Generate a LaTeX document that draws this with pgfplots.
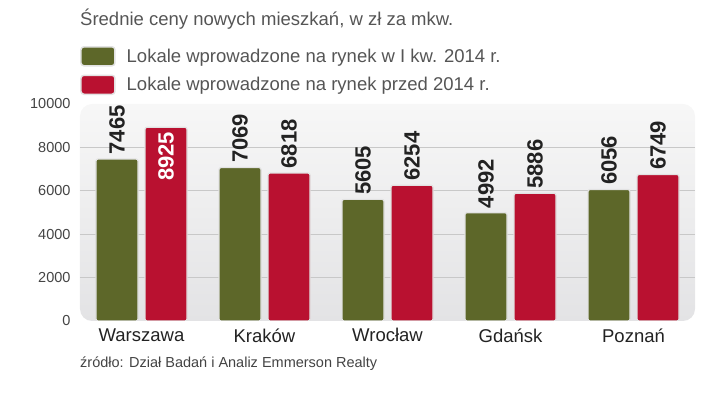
\documentclass[border=0pt]{standalone}
\usepackage{pgfplots}
\pgfplotsset{compat=1.18}
\usepackage{pgfplotstable}
\usepackage{fontspec}
\setmainfont{Liberation Sans}
\pgfkeys{/pgf/number format/.cd, 1000 sep={}, assume math mode=true}
\definecolor{olivebar}{HTML}{5D6729}
\definecolor{redbar}{HTML}{B91130}
\definecolor{lab}{HTML}{222222}
\definecolor{graytxt}{HTML}{555555}
\definecolor{ticktxt}{HTML}{444444}
\definecolor{barborder}{HTML}{E2E2E2}
\definecolor{panelTop}{HTML}{F7F7F7}
\definecolor{panelBot}{HTML}{E3E3E5}
\definecolor{gridc}{HTML}{C8C8C8}

\pgfplotstableread{
x y
0 7465
1 7069
2 5605
3 4992
4 6056
}\greendata
\pgfplotstableread{
x y inside
0 8925 1
1 6818 0
2 6254 0
3 5886 0
4 6749 0
}\reddata

\begin{document}
\begin{tikzpicture}
\useasboundingbox (0,0) rectangle (720pt,398pt);
\begin{axis}[
  at={(80pt,77pt)}, anchor=south west,
  scale only axis, width=615pt, height=217pt,
  xmin=-0.5, xmax=4.5, ymin=0, ymax=10000,
  ybar=7pt, bar width=42pt,
  xtick={0,1,2,3,4},
  xticklabels={Warszawa,Kraków,Wrocław,Gdańsk,Poznań},
  ytick={0,2000,4000,6000,8000,10000},
  extra y ticks={2000,4000,6000,8000},
  extra y tick labels={},
  extra y tick style={ymajorgrids=true, major grid style={gridc, line width=0.8pt}},
  axis line style={draw=none},
  major tick length=0pt,
  scaled y ticks=false,
  yticklabel style={font=\fontsize{14.5}{16}\selectfont, text=ticktxt, xshift=-6pt},
  xticklabel style={font=\fontsize{18.5}{20}\selectfont, text=lab, yshift=-4pt},
  axis background/.style={top color=panelTop, bottom color=panelBot, draw=none, rounded corners=12pt},
  legend style={at={(axis description cs:0,1.268)}, anchor=north west, draw=none, fill=none,
    font=\fontsize{18.5}{20}\selectfont, text=graytxt, row sep=8pt, inner sep=0pt,
    /tikz/every odd column/.append style={column sep=9pt}},
  legend cell align=left,
  legend image code/.code={\draw[#1, rounded corners=3pt, line width=1.5pt] (0pt,-9.5pt) rectangle (34pt,9.5pt);},
  nodes near coords style={rotate=90, font=\fontsize{22}{22}\selectfont\bfseries, inner sep=4pt},
]
\addplot[fill=olivebar, draw=barborder, line width=1.2pt, rounded corners=2pt,
  nodes near coords, nodes near coords style={anchor=west, text=lab}]
  table[x=x, y=y] {\greendata};
\addplot[fill=redbar, draw=barborder, line width=1.2pt, rounded corners=2pt,
  visualization depends on={\thisrow{inside} \as \inside},
  nodes near coords, nodes near coords style={/utils/exec={%
      \ifdim\inside pt>0.5pt \def\myanc{east}\def\mycol{white}\else\def\myanc{west}\def\mycol{lab}\fi},
    anchor=\myanc, text=\mycol}]
  table[x=x, y=y] {\reddata};
\legend{Lokale wprowadzone na rynek w I kw. 2014 r., Lokale wprowadzone na rynek przed 2014 r.}
\end{axis}
\node[anchor=base west, inner sep=0pt, text=graytxt, font=\fontsize{18.5}{20}\selectfont] at (80pt,372pt) {Średnie ceny nowych mieszkań, w zł za mkw.};
\node[anchor=base west, inner sep=0pt, text=lab!85, font=\fontsize{14.5}{16}\selectfont] at (80pt,30pt) {źródło: Dział Badań i Analiz Emmerson Realty};
\end{tikzpicture}
\end{document}
